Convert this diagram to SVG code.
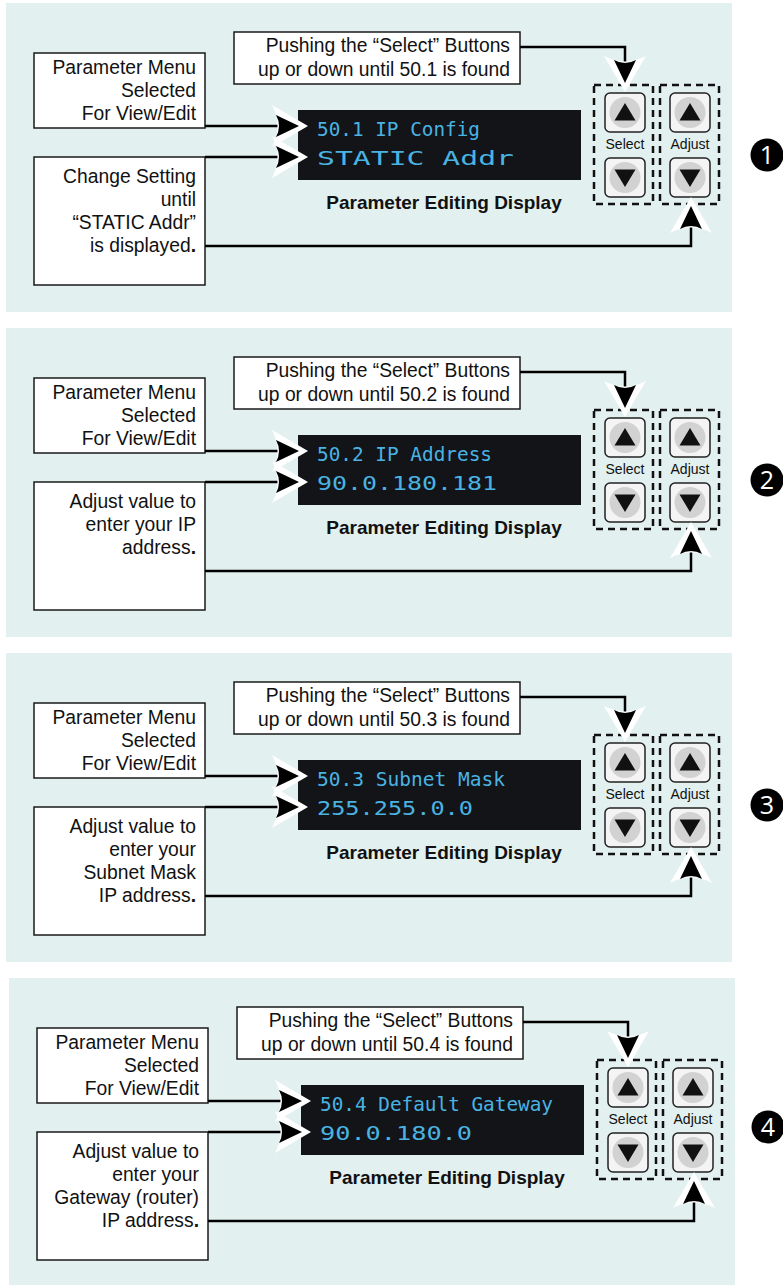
<svg xmlns="http://www.w3.org/2000/svg" xmlns:xlink="http://www.w3.org/1999/xlink" width="783" height="1285" viewBox="0 0 783 1285">
<style>
.bg{fill:#e2f0ef}
.box{fill:#fff;stroke:#1a1a1a;stroke-width:1.5}
.t{font-family:"Liberation Sans",Arial,sans-serif;font-size:19.3px;fill:#111;text-anchor:end}
.lcd{fill:#121418}
.lt{font-family:"DejaVu Sans Mono",monospace;font-size:19px;fill:#4ab3e2}
.cap{font-family:"Liberation Sans",Arial,sans-serif;font-size:19px;font-weight:bold;fill:#111;text-anchor:middle}
.lbl{font-family:"Liberation Sans",Arial,sans-serif;font-size:14px;fill:#111;text-anchor:middle}
.dash{fill:none;stroke:#111;stroke-width:2.5;stroke-dasharray:7 5}
.btn{fill:#f4f4f4;stroke:#222;stroke-width:1.5}
.bc{fill:#d2d2d2}
.ln{fill:none;stroke:#000;stroke-width:2.5}
.num{font-family:"Open Sans","DejaVu Sans",sans-serif;font-size:25px;fill:#fff;text-anchor:middle}
</style>
<defs>
<g id="btnUp"><rect x="-20" y="-19.5" width="40" height="39" rx="5" class="btn"/><circle r="15.5" class="bc"/><path d="M0,-9.5 L10.5,8 L-10.5,8Z" fill="#111"/></g>
<g id="btnDn"><rect x="-20" y="-19.5" width="40" height="39" rx="5" class="btn"/><circle r="15.5" class="bc"/><path d="M0,9.5 L10.5,-8 L-10.5,-8Z" fill="#111"/></g>
<g id="ah"><path d="M10,0 L-26,-21 Q-15,0 -26,21 Z" fill="#fff"/><path d="M1,0 L-22,-11 Q-16,0 -22,11 Z" fill="#000"/></g>
<g id="buttons">
<rect x="594" y="85" width="59" height="119" class="dash"/>
<rect x="660" y="85" width="59" height="119" class="dash"/>
<use xlink:href="#btnUp" x="625" y="112.5"/>
<use xlink:href="#btnDn" x="625" y="177.5"/>
<use xlink:href="#btnUp" x="690" y="112.5"/>
<use xlink:href="#btnDn" x="690" y="177.5"/>
<text x="625" y="149" class="lbl">Select</text>
<text x="690" y="149" class="lbl">Adjust</text>
</g>
<g id="conn">
<path class="ln" d="M520,47 H625 V74"/>
<path class="ln" d="M205,126 H290"/>
<path class="ln" d="M205,157 H290"/>
<path class="ln" d="M205,246 H691 V214"/>
<use xlink:href="#ah" transform="translate(298,126)"/>
<use xlink:href="#ah" transform="translate(298,157)"/>
<use xlink:href="#ah" transform="translate(625,82) rotate(90)"/>
<use xlink:href="#ah" transform="translate(691,207) rotate(-90)"/>
</g>
</defs>

<!-- Panel 1 -->
<g id="panel1">
<rect class="bg" x="6" y="3" width="726" height="309"/>
<g id="p1-push"><rect class="box" x="234" y="32" width="286" height="52"/>
<text class="t" x="510" y="52">Pushing the “Select” Buttons</text>
<text class="t" x="510" y="76">up or down until 50.1 is found</text></g>
<g id="p1-menu"><rect class="box" x="34" y="53" width="171" height="75"/>
<text class="t" x="196" y="74">Parameter Menu</text>
<text class="t" x="196" y="97">Selected</text>
<text class="t" x="196" y="120">For View/Edit</text></g>
<g id="p1-change"><rect class="box" x="34" y="157" width="171" height="128"/>
<text class="t" x="196" y="183">Change Setting</text>
<text class="t" x="196" y="206">until</text>
<text class="t" x="196" y="229">“STATIC Addr”</text>
<text class="t" x="196" y="252">is displayed<tspan font-weight="bold">.</tspan></text></g>
<g id="p1-display"><rect class="lcd" x="298" y="110" width="283" height="70"/>
<text class="lt" x="317" y="136" textLength="163" lengthAdjust="spacingAndGlyphs">50.1 IP Config</text>
<text class="lt" x="317" y="165" textLength="197" lengthAdjust="spacingAndGlyphs">STATIC Addr</text>
<text class="cap" x="444" y="209">Parameter Editing Display</text></g>
<g id="p1-buttons"><use xlink:href="#buttons"/></g>
<g id="p1-connectors"><use xlink:href="#conn"/></g>
<g id="p1-num"><circle cx="767" cy="155" r="16.5" fill="#000"/><text class="num" x="767" y="164">1</text></g>
</g>

<!-- Panel 2 -->
<g id="panel2" transform="translate(0,325)">
<rect class="bg" x="6" y="3" width="726" height="309"/>
<g id="p2-push"><rect class="box" x="234" y="32" width="286" height="52"/>
<text class="t" x="510" y="52">Pushing the “Select” Buttons</text>
<text class="t" x="510" y="76">up or down until 50.2 is found</text></g>
<g id="p2-menu"><rect class="box" x="34" y="53" width="171" height="75"/>
<text class="t" x="196" y="74">Parameter Menu</text>
<text class="t" x="196" y="97">Selected</text>
<text class="t" x="196" y="120">For View/Edit</text></g>
<g id="p2-adjust"><rect class="box" x="34" y="157" width="171" height="128"/>
<text class="t" x="196" y="183">Adjust value to</text>
<text class="t" x="196" y="206">enter your IP</text>
<text class="t" x="196" y="229">address<tspan font-weight="bold">.</tspan></text></g>
<g id="p2-display"><rect class="lcd" x="298" y="110" width="283" height="70"/>
<text class="lt" x="317" y="136" textLength="175" lengthAdjust="spacingAndGlyphs">50.2 IP Address</text>
<text class="lt" x="317" y="165" textLength="180" lengthAdjust="spacingAndGlyphs">90.0.180.181</text>
<text class="cap" x="444" y="209">Parameter Editing Display</text></g>
<g id="p2-buttons"><use xlink:href="#buttons"/></g>
<g id="p2-connectors"><use xlink:href="#conn"/></g>
<g id="p2-num"><circle cx="767" cy="155" r="16.5" fill="#000"/><text class="num" x="767" y="164">2</text></g>
</g>

<!-- Panel 3 -->
<g id="panel3" transform="translate(0,650)">
<rect class="bg" x="6" y="3" width="726" height="309"/>
<g id="p3-push"><rect class="box" x="234" y="32" width="286" height="52"/>
<text class="t" x="510" y="52">Pushing the “Select” Buttons</text>
<text class="t" x="510" y="76">up or down until 50.3 is found</text></g>
<g id="p3-menu"><rect class="box" x="34" y="53" width="171" height="75"/>
<text class="t" x="196" y="74">Parameter Menu</text>
<text class="t" x="196" y="97">Selected</text>
<text class="t" x="196" y="120">For View/Edit</text></g>
<g id="p3-adjust"><rect class="box" x="34" y="157" width="171" height="128"/>
<text class="t" x="196" y="183">Adjust value to</text>
<text class="t" x="196" y="206">enter your</text>
<text class="t" x="196" y="229">Subnet Mask</text>
<text class="t" x="196" y="252">IP address<tspan font-weight="bold">.</tspan></text></g>
<g id="p3-display"><rect class="lcd" x="298" y="110" width="283" height="70"/>
<text class="lt" x="317" y="136" textLength="188" lengthAdjust="spacingAndGlyphs">50.3 Subnet Mask</text>
<text class="lt" x="317" y="165" textLength="156" lengthAdjust="spacingAndGlyphs">255.255.0.0</text>
<text class="cap" x="444" y="209">Parameter Editing Display</text></g>
<g id="p3-buttons"><use xlink:href="#buttons"/></g>
<g id="p3-connectors"><use xlink:href="#conn"/></g>
<g id="p3-num"><circle cx="767" cy="155" r="16.5" fill="#000"/><text class="num" x="767" y="164">3</text></g>
</g>

<!-- Panel 4 -->
<g id="panel4" transform="translate(3,975)">
<rect class="bg" x="6" y="3" width="726" height="309"/>
<g id="p4-push"><rect class="box" x="234" y="32" width="286" height="52"/>
<text class="t" x="510" y="52">Pushing the “Select” Buttons</text>
<text class="t" x="510" y="76">up or down until 50.4 is found</text></g>
<g id="p4-menu"><rect class="box" x="34" y="53" width="171" height="75"/>
<text class="t" x="196" y="74">Parameter Menu</text>
<text class="t" x="196" y="97">Selected</text>
<text class="t" x="196" y="120">For View/Edit</text></g>
<g id="p4-adjust"><rect class="box" x="34" y="157" width="171" height="128"/>
<text class="t" x="196" y="183">Adjust value to</text>
<text class="t" x="196" y="206">enter your</text>
<text class="t" x="196" y="229">Gateway (router)</text>
<text class="t" x="196" y="252">IP address<tspan font-weight="bold">.</tspan></text></g>
<g id="p4-display"><rect class="lcd" x="298" y="110" width="283" height="70"/>
<text class="lt" x="317" y="136" textLength="233" lengthAdjust="spacingAndGlyphs">50.4 Default Gateway</text>
<text class="lt" x="317" y="165" textLength="152" lengthAdjust="spacingAndGlyphs">90.0.180.0</text>
<text class="cap" x="444" y="209">Parameter Editing Display</text></g>
<g id="p4-buttons"><use xlink:href="#buttons"/></g>
<g id="p4-connectors"><use xlink:href="#conn"/></g>
<g id="p4-num"><circle cx="765" cy="152" r="16.5" fill="#000"/><text class="num" x="765" y="161">4</text></g>
</g>
</svg>
